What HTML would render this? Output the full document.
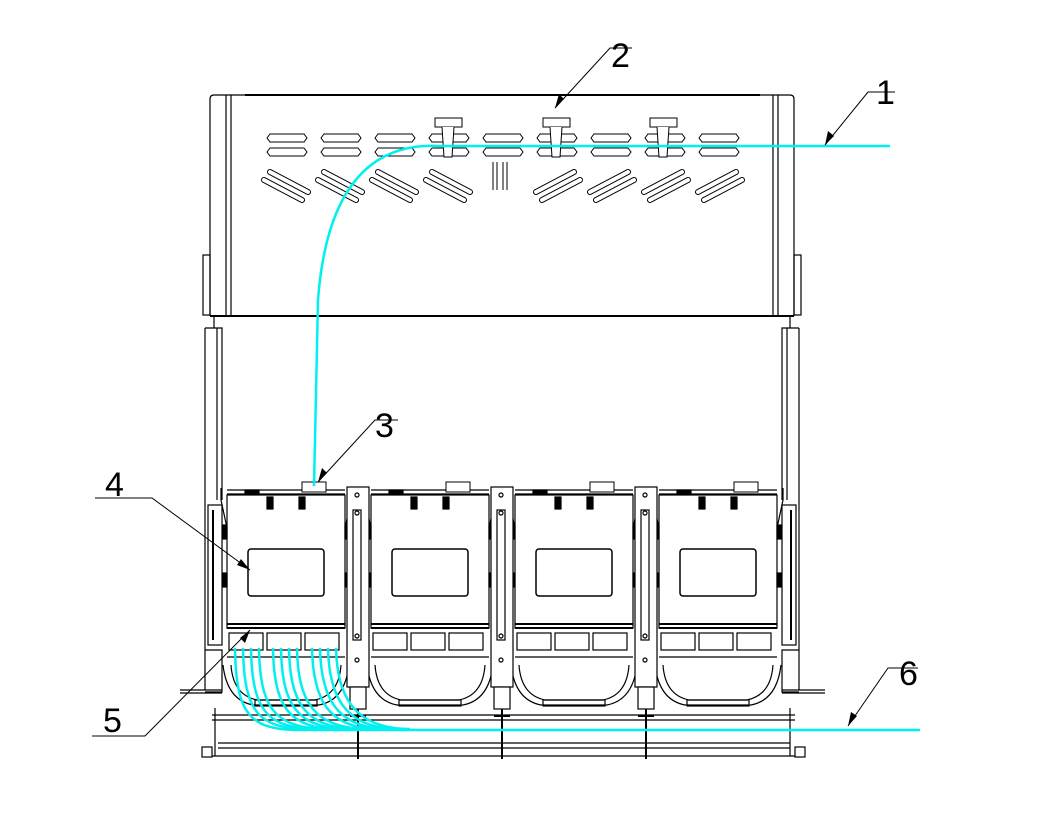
<!DOCTYPE html>
<html><head><meta charset="utf-8"><style>
html,body{margin:0;padding:0;background:#fff;}
svg{display:block}
text{font-family:"Liberation Sans",sans-serif;font-size:34px;fill:#000}
</style></head><body>
<svg width="1045" height="838" viewBox="0 0 1045 838" xmlns="http://www.w3.org/2000/svg">
<defs>
<g id="hs"><path d="M0,4 l3,-4 h34 l3,4 l-3,4 h-34z" fill="none" stroke="#000" stroke-width="1"/></g>
<g id="slotpair">
 <use href="#hs" x="0" y="134"/><use href="#hs" x="0" y="148"/>
 <path d="M3,172 l38,20 M-3,180 l38,20" stroke="#000" stroke-width="6" stroke-linecap="round"/>
 <path d="M3,172 l38,20 M-3,180 l38,20" stroke="#fff" stroke-width="4" stroke-linecap="round"/>
</g>
<g id="slotpairR">
 <use href="#hs" x="0" y="134"/><use href="#hs" x="0" y="148"/>
 <path d="M37,172 l-38,20 M43,180 l-38,20" stroke="#000" stroke-width="6" stroke-linecap="round"/>
 <path d="M37,172 l-38,20 M43,180 l-38,20" stroke="#fff" stroke-width="4" stroke-linecap="round"/>
</g>
<g id="pin" fill="#fff" stroke="#000" stroke-width="1">
 <rect x="-13" y="118" width="27" height="9"/>
 <path d="M-6,127 l2,30 h8 l2,-30"/>
</g>
<g id="cas" fill="none" stroke="#000" stroke-width="1.2">
 <path d="M0,490 h118 M0,494 h118"/>
 <rect x="0" y="495" width="118" height="133"/>
 <path d="M0,624 h118 M0,628 h118" stroke-width="2"/>
 <rect x="21" y="549" width="76" height="47" rx="3" stroke-width="1.5"/>
 <rect x="2" y="633" width="34" height="17"/><rect x="40" y="633" width="34" height="17"/><rect x="78" y="633" width="34" height="17"/>
 <path d="M0,657 h118"/>
 <path d="M-4,665 q4,35 30,40 h66 q26,-5 30,-40"/>
 <path d="M4,665 q2,30 26,35 h58 q24,-5 26,-35"/>
 <rect x="28" y="700" width="62" height="6"/>
 <rect x="40" y="497" width="6" height="12" fill="#000"/><rect x="72" y="497" width="6" height="12" fill="#000"/>
 <rect x="18" y="490" width="14" height="4" fill="#000"/>
 <path d="M0,528 l-6,-28 v-12 M118,528 l6,-28 v-12"/>
 <rect x="-4" y="525" width="4" height="14" fill="#000"/><rect x="118" y="525" width="4" height="14" fill="#000"/>
 <rect x="-4" y="573" width="4" height="14" fill="#000"/><rect x="118" y="573" width="4" height="14" fill="#000"/>
</g>
<g id="div" fill="#fff" stroke="#000" stroke-width="1.2">
 <rect x="0" y="487" width="22" height="200"/>
 <rect x="6" y="510" width="8" height="130"/>
 <circle cx="10" cy="495" r="2"/><circle cx="10" cy="513" r="2"/><circle cx="10" cy="636" r="2"/><circle cx="10" cy="660" r="2"/>
 <rect x="3" y="687" width="16" height="22"/>
 <path d="M11,709 v50" stroke-width="2"/>
 <path d="M3,716 h16" stroke-width="2"/>
</g>
</defs>

<g fill="none" stroke="#000" stroke-width="1.2">
 <path d="M210,316 V99 q0,-4 4,-4 H790 q4,0 4,4 V316"/>
 <path d="M245,95 H760" stroke-width="2"/>
 <path d="M226,95 V316 M231,95 V316 M773,95 V316 M778,95 V316"/>
 <path d="M210,316 H794" stroke-width="2"/>
 <path d="M210,316 h4 V328 M794,316 h-4 V328"/>
 <rect x="203" y="255" width="7" height="60"/><rect x="794" y="255" width="7" height="60"/>
 <path d="M205,328 H222 V500 M205,328 V690 M217,328 V500"/>
 <path d="M799,328 H782 V500 M799,328 V690 M787,328 V500"/>
 <rect x="208" y="505" width="14" height="140"/><rect x="782" y="505" width="14" height="140"/>
 <path d="M213,510 V640 M791,510 V640" stroke-width="2"/>
 <path d="M205,650 H222 V692 H205 M799,650 H782 V692 H799"/>
 <path d="M180,690 H222 M180,693 H222 M782,690 H825 M782,693 H825"/>
 <path d="M212,715 H795 M212,720 H795 M218,743 H790 M218,748 H790 M212,756 H795" />
 <path d="M215,708 V756 M790,708 V756"/>
 <rect x="202" y="747" width="10" height="10"/><rect x="795" y="747" width="10" height="10"/>
</g>
<use href="#slotpair" x="267"/><use href="#slotpair" x="321"/><use href="#slotpair" x="375"/><use href="#slotpair" x="429"/>
<use href="#hs" x="483" y="134"/><use href="#hs" x="483" y="148"/>
<path d="M495,162 v28 M505,162 v28" stroke="#000" stroke-width="5"/><path d="M495,162 v28 M505,162 v28" stroke="#fff" stroke-width="3"/>
<use href="#slotpairR" x="537"/><use href="#slotpairR" x="591"/><use href="#slotpairR" x="645"/><use href="#slotpairR" x="699"/>
<use href="#pin" x="448"/><use href="#pin" x="556"/><use href="#pin" x="663"/>

<use href="#cas" x="227"/><use href="#cas" x="371"/><use href="#cas" x="515"/><use href="#cas" x="659"/>
<use href="#div" x="347"/><use href="#div" x="491"/><use href="#div" x="635"/>
<rect x="302" y="482" width="24" height="10" fill="#fff" stroke="#000"/>
<rect x="446" y="482" width="24" height="10" fill="#fff" stroke="#000"/>
<rect x="590" y="482" width="24" height="10" fill="#fff" stroke="#000"/>
<rect x="734" y="482" width="24" height="10" fill="#fff" stroke="#000"/>

<g fill="none" stroke="#00f0f0" stroke-width="2.5">
 <path d="M890,146 H440 Q330,140 318,300 L314,486"/>
 <path d="M235,648 C236,715 250,730 300,730 H920"/>
 <path d="M243,648 C244,712 258,729 310,729"/>
 <path d="M251,648 C252,710 266,729 320,729"/>
 <path d="M259,648 C260,708 274,729 330,729"/>
 <path d="M273,648 C274,706 288,729 340,729"/>
 <path d="M281,648 C282,704 296,729 350,729"/>
 <path d="M289,648 C290,702 304,729 360,729"/>
 <path d="M297,648 C298,700 312,729 370,729"/>
 <path d="M312,648 C313,698 327,729 380,729"/>
 <path d="M320,648 C321,696 335,729 390,729"/>
 <path d="M328,648 C329,694 343,729 400,729"/>
 <path d="M336,648 C337,692 351,729 410,729"/>
</g>

<g stroke="#000" stroke-width="1" fill="none">
 <path d="M895,92 H868 L825,145"/>
 <path d="M632,48 H610 L555,108"/>
 <path d="M398,420 H375 L318,482"/>
 <path d="M95,498 H152 L250,570"/>
 <path d="M92,736 H145 L250,630"/>
 <path d="M918,668 H888 L848,726"/>
</g>
<g fill="#000">
 <path d="M825,145 l3,-14 l6,5z"/>
 <path d="M555,108 l4,-14 l5,5z"/>
 <path d="M318,482 l4,-14 l5,5z"/>
 <path d="M250,570 l-13,-5 l4,-6z"/>
 <path d="M250,630 l-5,13 l-5,-5z"/>
 <path d="M848,726 l3,-14 l6,4z"/>
</g>
<text x="876" y="104">1</text>
<text x="611" y="67">2</text>
<text x="375" y="437">3</text>
<text x="105" y="496">4</text>
<text x="103" y="732">5</text>
<text x="899" y="685">6</text>
</svg>
</body></html>
